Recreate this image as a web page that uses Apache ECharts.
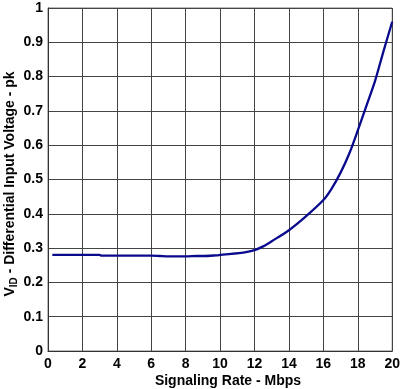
<!DOCTYPE html>
<html>
<head>
<meta charset="utf-8">
<script src="https://cdn.jsdelivr.net/npm/echarts@6/dist/echarts.min.js"></script>
<style>
html,body{margin:0;padding:0;background:#fff;}
#c{width:403px;height:389px;}
</style>
</head>
<body>
<div id="c"></div>
<script>
var rateMbps = [0.25, 1, 2, 3, 3.1, 4, 5, 6, 6.5, 7, 8, 8.7, 9, 9.8, 10, 11, 11.5, 12, 12.5, 13, 14, 15, 16, 16.5, 17, 17.5, 18, 18.5, 19, 19.5, 20];
var vidPk    = [0.28, 0.28, 0.28, 0.28, 0.278, 0.278, 0.278, 0.278, 0.277, 0.276, 0.276, 0.277, 0.277, 0.279, 0.28, 0.285, 0.288, 0.294, 0.305, 0.32, 0.352, 0.393, 0.44, 0.475, 0.52, 0.575, 0.643, 0.715, 0.787, 0.875, 0.96];
var xTitle = 'Signaling Rate - Mbps';
var yTitleMain = 'V';
var yTitleSub = 'ID';
var yTitleRest = ' - Differential Input Voltage - pk';

var chart = echarts.init(document.getElementById('c'));
var font = 'Liberation Sans, Arial, sans-serif';
var gridColor = '#444';
chart.setOption({
  animation: false,
  grid: {left: 48, right: 10, top: 8, bottom: 38, show: true, borderColor: '#777', borderWidth: 1},
  xAxis: {
    type: 'value', min: 0, max: 20, interval: 2,
    axisLine: {show: true, lineStyle: {color: '#333', width: 1}},
    axisTick: {show: false},
    axisLabel: {color: '#000', fontFamily: font, fontWeight: 'bold', fontSize: 14, margin: 6},
    splitLine: {show: true, lineStyle: {color: gridColor, width: 1}}
  },
  yAxis: {
    type: 'value', min: 0, max: 1, interval: 0.1,
    axisLine: {show: true, lineStyle: {color: '#333', width: 1}},
    axisTick: {show: false},
    axisLabel: {color: '#000', fontFamily: font, fontWeight: 'bold', fontSize: 14, margin: 5},
    splitLine: {show: true, lineStyle: {color: gridColor, width: 1}}
  },
  series: [{
    type: 'line',
    data: rateMbps.map(function (x, i) { return [x, vidPk[i]]; }),
    showSymbol: false,
    smooth: 0.3,
    lineStyle: {color: '#0a0a8c', width: 2.3}
  }],
  graphic: [
    {
      type: 'text', x: 228, y: 381,
      style: {text: xTitle, fill: '#000', font: 'bold 14px ' + font, align: 'center', verticalAlign: 'middle'}
    },
    {
      type: 'text', x: 10, y: 184, rotation: Math.PI / 2,
      style: {
        text: '{m|' + yTitleMain + '}{s|' + yTitleSub + '}{m|' + yTitleRest + '}',
        align: 'center', verticalAlign: 'middle', fill: '#000',
        rich: {
          m: {fontFamily: font, fontWeight: 'bold', fontSize: 14, fill: '#000', lineHeight: 18, verticalAlign: 'middle'},
          s: {fontFamily: font, fontWeight: 'bold', fontSize: 10, fill: '#000', lineHeight: 18, verticalAlign: 'bottom', padding: [6, 0, 0, 0]}
        }
      }
    }
  ]
});
</script>
</body>
</html>
